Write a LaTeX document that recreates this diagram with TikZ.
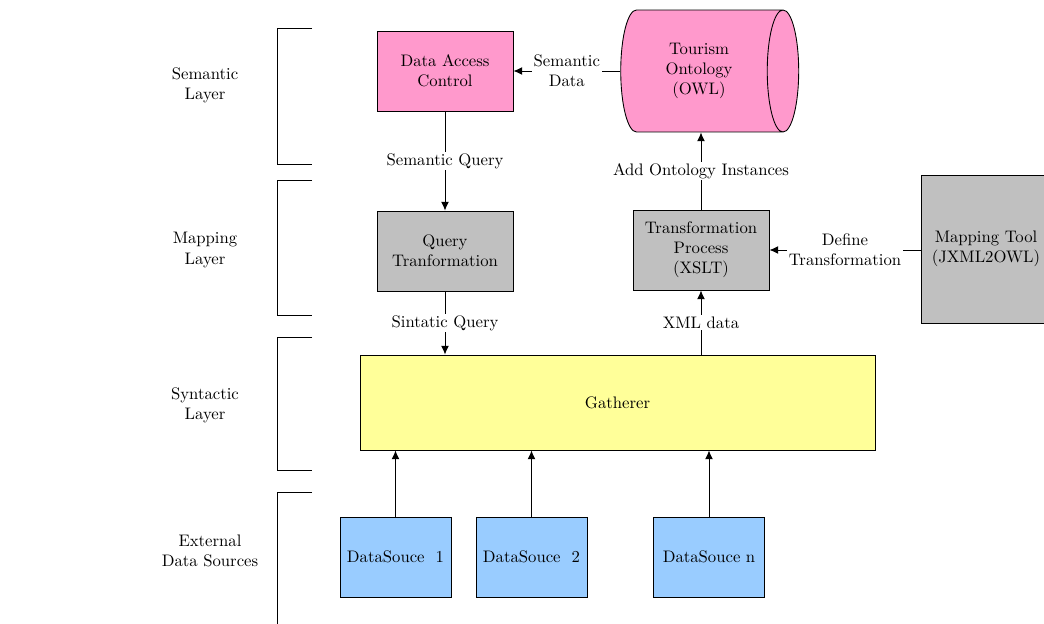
\documentclass[tikz,border=0pt]{standalone}
\usepackage{tikz}
\usetikzlibrary{arrows.meta, shapes.geometric}
\definecolor{pinkbox}{HTML}{FF99CC}
\definecolor{greybox}{HTML}{C0C0C0}
\definecolor{yellowbox}{HTML}{FFFF99}
\definecolor{bluebox}{HTML}{99CCFF}
\begin{document}
\begin{tikzpicture}[x=0.02cm, y=-0.02cm, line width=.5pt,
  font=\fontsize{9.5}{11.5}\selectfont,
  >={Latex[length=5pt, width=4.5pt]},
  box/.style={draw, align=center, minimum width=2.72cm, minimum height=1.6cm, inner sep=2pt},
  dsbox/.style={box, fill=bluebox, minimum width=2.22cm},
  lbl/.style={fill=white, align=center, inner sep=1pt},
  layer/.style={align=center}]
\useasboundingbox (0,0) rectangle (1044,624);
% layers
\node[layer] (semlayer) at (205,85) {Semantic\\Layer};
\node[layer] (maplayer) at (205,250) {Mapping\\Layer};
\node[layer] (synlayer) at (205,405) {Syntactic\\Layer};
\node[layer] (extlayer) at (210,551) {External\\Data Sources};
\draw (312,28) -| (277,164) -- (312,164);
\draw (312,180) -| (277,315) -- (312,315);
\draw (312,337) -| (277,470) -- (312,470);
\draw (312,492) -| (277,630);
% boxes
\node[box, fill=pinkbox] (dac) at (445,71) {Data Access\\Control};
\node[draw, fill=pinkbox, cylinder, shape aspect=.5, minimum height=3.56cm, minimum width=2.44cm, align=center, inner sep=2pt] (onto) at (699,71) {Tourism\\Ontology\\(OWL)};
\node[box, fill=greybox] (qt) at (445,251) {Query\\Tranformation};
\node[box, fill=greybox] (tp) at (701,250) {Transformation\\Process\\(XSLT)};
\node[box, fill=greybox, minimum width=2.6cm, minimum height=2.96cm] (mt) at (986,249) {Mapping Tool\\(JXML2OWL)};
\node[box, fill=yellowbox, minimum width=10.3cm, minimum height=1.9cm] (gath) at (617.5,402.5) {Gatherer};
\node[dsbox] (ds1) at (395.5,557) {DataSouce\ \ 1};
\node[dsbox] (ds2) at (531.5,557) {DataSouce\ \ 2};
\node[dsbox] (dsn) at (709,557) {DataSouce n};
% connectors
\draw[->] (onto.west) -- (dac.east) node[lbl, pos=.5]{Semantic\\Data};
\draw[->] (dac) -- (qt) node[lbl, pos=.5]{Semantic Query};
\draw[->] (qt) -- (qt |- gath.north) node[lbl, pos=.5]{Sintatic Query};
\draw[->] (tp) -- (tp |- onto.south) node[lbl, pos=.5]{Add Ontology Instances};
\draw[->] (gath.north -| tp) -- (tp) node[lbl, pos=.5]{XML data};
\draw[->] (tp.east -| mt.west) -- (tp) node[lbl, pos=.5]{Define\\Transformation};
\foreach \ds in {ds1, ds2, dsn}
  \draw[->] (\ds) -- (\ds |- gath.south);
\end{tikzpicture}
\end{document}
